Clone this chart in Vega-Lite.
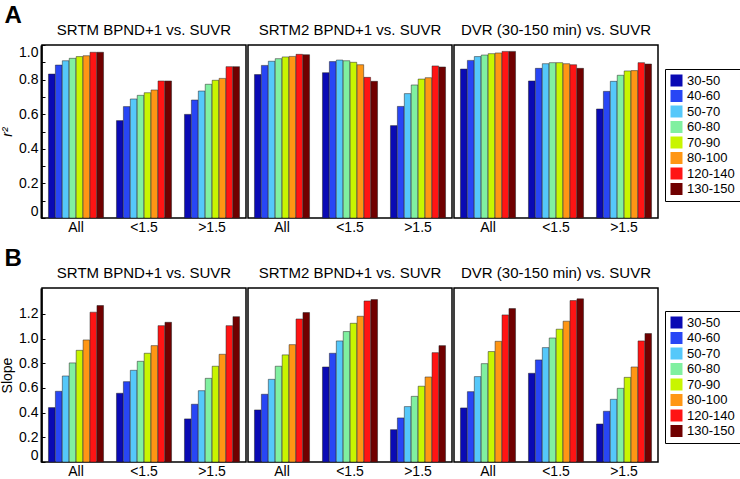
{
  "$schema": "https://vega.github.io/schema/vega-lite/v6.json",
  "background": "white",
  "padding": {"left": 0, "top": 4, "right": 0, "bottom": 0},
  "config": {
    "font": "Liberation Sans",
    "view": {"stroke": "black", "strokeWidth": 1.5},
    "axis": {"domainColor": "black", "tickColor": "black", "labelColor": "black", "labelFontSize": 14, "titleFontSize": 14, "titleFontWeight": "normal", "titleColor": "black", "grid": false},
    "header": {"labelFontSize": 15, "labelColor": "black", "labelPadding": 6},
    "legend": {"labelFontSize": 13, "labelColor": "black"},
    "title": {"color": "black"}
  },
  "datasets": {
    "r2": [
      {"m": "SRTM BPND+1 vs. SUVR", "g": "All", "w": "30-50", "v": 0.832},
      {"m": "SRTM BPND+1 vs. SUVR", "g": "All", "w": "40-60", "v": 0.884},
      {"m": "SRTM BPND+1 vs. SUVR", "g": "All", "w": "50-70", "v": 0.909},
      {"m": "SRTM BPND+1 vs. SUVR", "g": "All", "w": "60-80", "v": 0.923},
      {"m": "SRTM BPND+1 vs. SUVR", "g": "All", "w": "70-90", "v": 0.933},
      {"m": "SRTM BPND+1 vs. SUVR", "g": "All", "w": "80-100", "v": 0.938},
      {"m": "SRTM BPND+1 vs. SUVR", "g": "All", "w": "120-140", "v": 0.958},
      {"m": "SRTM BPND+1 vs. SUVR", "g": "All", "w": "130-150", "v": 0.958},
      {"m": "SRTM BPND+1 vs. SUVR", "g": "<1.5", "w": "30-50", "v": 0.563},
      {"m": "SRTM BPND+1 vs. SUVR", "g": "<1.5", "w": "40-60", "v": 0.644},
      {"m": "SRTM BPND+1 vs. SUVR", "g": "<1.5", "w": "50-70", "v": 0.688},
      {"m": "SRTM BPND+1 vs. SUVR", "g": "<1.5", "w": "60-80", "v": 0.709},
      {"m": "SRTM BPND+1 vs. SUVR", "g": "<1.5", "w": "70-90", "v": 0.724},
      {"m": "SRTM BPND+1 vs. SUVR", "g": "<1.5", "w": "80-100", "v": 0.740},
      {"m": "SRTM BPND+1 vs. SUVR", "g": "<1.5", "w": "120-140", "v": 0.792},
      {"m": "SRTM BPND+1 vs. SUVR", "g": "<1.5", "w": "130-150", "v": 0.792},
      {"m": "SRTM BPND+1 vs. SUVR", "g": ">1.5", "w": "30-50", "v": 0.599},
      {"m": "SRTM BPND+1 vs. SUVR", "g": ">1.5", "w": "40-60", "v": 0.682},
      {"m": "SRTM BPND+1 vs. SUVR", "g": ">1.5", "w": "50-70", "v": 0.734},
      {"m": "SRTM BPND+1 vs. SUVR", "g": ">1.5", "w": "60-80", "v": 0.773},
      {"m": "SRTM BPND+1 vs. SUVR", "g": ">1.5", "w": "70-90", "v": 0.796},
      {"m": "SRTM BPND+1 vs. SUVR", "g": ">1.5", "w": "80-100", "v": 0.807},
      {"m": "SRTM BPND+1 vs. SUVR", "g": ">1.5", "w": "120-140", "v": 0.875},
      {"m": "SRTM BPND+1 vs. SUVR", "g": ">1.5", "w": "130-150", "v": 0.875},
      {"m": "SRTM2 BPND+1 vs. SUVR", "g": "All", "w": "30-50", "v": 0.829},
      {"m": "SRTM2 BPND+1 vs. SUVR", "g": "All", "w": "40-60", "v": 0.882},
      {"m": "SRTM2 BPND+1 vs. SUVR", "g": "All", "w": "50-70", "v": 0.906},
      {"m": "SRTM2 BPND+1 vs. SUVR", "g": "All", "w": "60-80", "v": 0.921},
      {"m": "SRTM2 BPND+1 vs. SUVR", "g": "All", "w": "70-90", "v": 0.931},
      {"m": "SRTM2 BPND+1 vs. SUVR", "g": "All", "w": "80-100", "v": 0.934},
      {"m": "SRTM2 BPND+1 vs. SUVR", "g": "All", "w": "120-140", "v": 0.946},
      {"m": "SRTM2 BPND+1 vs. SUVR", "g": "All", "w": "130-150", "v": 0.944},
      {"m": "SRTM2 BPND+1 vs. SUVR", "g": "<1.5", "w": "30-50", "v": 0.840},
      {"m": "SRTM2 BPND+1 vs. SUVR", "g": "<1.5", "w": "40-60", "v": 0.904},
      {"m": "SRTM2 BPND+1 vs. SUVR", "g": "<1.5", "w": "50-70", "v": 0.913},
      {"m": "SRTM2 BPND+1 vs. SUVR", "g": "<1.5", "w": "60-80", "v": 0.909},
      {"m": "SRTM2 BPND+1 vs. SUVR", "g": "<1.5", "w": "70-90", "v": 0.900},
      {"m": "SRTM2 BPND+1 vs. SUVR", "g": "<1.5", "w": "80-100", "v": 0.886},
      {"m": "SRTM2 BPND+1 vs. SUVR", "g": "<1.5", "w": "120-140", "v": 0.813},
      {"m": "SRTM2 BPND+1 vs. SUVR", "g": "<1.5", "w": "130-150", "v": 0.790},
      {"m": "SRTM2 BPND+1 vs. SUVR", "g": ">1.5", "w": "30-50", "v": 0.534},
      {"m": "SRTM2 BPND+1 vs. SUVR", "g": ">1.5", "w": "40-60", "v": 0.645},
      {"m": "SRTM2 BPND+1 vs. SUVR", "g": ">1.5", "w": "50-70", "v": 0.719},
      {"m": "SRTM2 BPND+1 vs. SUVR", "g": ">1.5", "w": "60-80", "v": 0.769},
      {"m": "SRTM2 BPND+1 vs. SUVR", "g": ">1.5", "w": "70-90", "v": 0.803},
      {"m": "SRTM2 BPND+1 vs. SUVR", "g": ">1.5", "w": "80-100", "v": 0.811},
      {"m": "SRTM2 BPND+1 vs. SUVR", "g": ">1.5", "w": "120-140", "v": 0.879},
      {"m": "SRTM2 BPND+1 vs. SUVR", "g": ">1.5", "w": "130-150", "v": 0.873},
      {"m": "DVR (30-150 min) vs. SUVR", "g": "All", "w": "30-50", "v": 0.861},
      {"m": "DVR (30-150 min) vs. SUVR", "g": "All", "w": "40-60", "v": 0.911},
      {"m": "DVR (30-150 min) vs. SUVR", "g": "All", "w": "50-70", "v": 0.933},
      {"m": "DVR (30-150 min) vs. SUVR", "g": "All", "w": "60-80", "v": 0.942},
      {"m": "DVR (30-150 min) vs. SUVR", "g": "All", "w": "70-90", "v": 0.950},
      {"m": "DVR (30-150 min) vs. SUVR", "g": "All", "w": "80-100", "v": 0.954},
      {"m": "DVR (30-150 min) vs. SUVR", "g": "All", "w": "120-140", "v": 0.963},
      {"m": "DVR (30-150 min) vs. SUVR", "g": "All", "w": "130-150", "v": 0.963},
      {"m": "DVR (30-150 min) vs. SUVR", "g": "<1.5", "w": "30-50", "v": 0.792},
      {"m": "DVR (30-150 min) vs. SUVR", "g": "<1.5", "w": "40-60", "v": 0.865},
      {"m": "DVR (30-150 min) vs. SUVR", "g": "<1.5", "w": "50-70", "v": 0.892},
      {"m": "DVR (30-150 min) vs. SUVR", "g": "<1.5", "w": "60-80", "v": 0.898},
      {"m": "DVR (30-150 min) vs. SUVR", "g": "<1.5", "w": "70-90", "v": 0.898},
      {"m": "DVR (30-150 min) vs. SUVR", "g": "<1.5", "w": "80-100", "v": 0.892},
      {"m": "DVR (30-150 min) vs. SUVR", "g": "<1.5", "w": "120-140", "v": 0.886},
      {"m": "DVR (30-150 min) vs. SUVR", "g": "<1.5", "w": "130-150", "v": 0.865},
      {"m": "DVR (30-150 min) vs. SUVR", "g": ">1.5", "w": "30-50", "v": 0.630},
      {"m": "DVR (30-150 min) vs. SUVR", "g": ">1.5", "w": "40-60", "v": 0.732},
      {"m": "DVR (30-150 min) vs. SUVR", "g": ">1.5", "w": "50-70", "v": 0.790},
      {"m": "DVR (30-150 min) vs. SUVR", "g": ">1.5", "w": "60-80", "v": 0.825},
      {"m": "DVR (30-150 min) vs. SUVR", "g": ">1.5", "w": "70-90", "v": 0.850},
      {"m": "DVR (30-150 min) vs. SUVR", "g": ">1.5", "w": "80-100", "v": 0.852},
      {"m": "DVR (30-150 min) vs. SUVR", "g": ">1.5", "w": "120-140", "v": 0.898},
      {"m": "DVR (30-150 min) vs. SUVR", "g": ">1.5", "w": "130-150", "v": 0.890}
    ],
    "slope": [
      {"m": "SRTM BPND+1 vs. SUVR", "g": "All", "w": "30-50", "v": 0.441},
      {"m": "SRTM BPND+1 vs. SUVR", "g": "All", "w": "40-60", "v": 0.573},
      {"m": "SRTM BPND+1 vs. SUVR", "g": "All", "w": "50-70", "v": 0.697},
      {"m": "SRTM BPND+1 vs. SUVR", "g": "All", "w": "60-80", "v": 0.803},
      {"m": "SRTM BPND+1 vs. SUVR", "g": "All", "w": "70-90", "v": 0.905},
      {"m": "SRTM BPND+1 vs. SUVR", "g": "All", "w": "80-100", "v": 0.989},
      {"m": "SRTM BPND+1 vs. SUVR", "g": "All", "w": "120-140", "v": 1.214},
      {"m": "SRTM BPND+1 vs. SUVR", "g": "All", "w": "130-150", "v": 1.268},
      {"m": "SRTM BPND+1 vs. SUVR", "g": "<1.5", "w": "30-50", "v": 0.557},
      {"m": "SRTM BPND+1 vs. SUVR", "g": "<1.5", "w": "40-60", "v": 0.651},
      {"m": "SRTM BPND+1 vs. SUVR", "g": "<1.5", "w": "50-70", "v": 0.743},
      {"m": "SRTM BPND+1 vs. SUVR", "g": "<1.5", "w": "60-80", "v": 0.816},
      {"m": "SRTM BPND+1 vs. SUVR", "g": "<1.5", "w": "70-90", "v": 0.881},
      {"m": "SRTM BPND+1 vs. SUVR", "g": "<1.5", "w": "80-100", "v": 0.943},
      {"m": "SRTM BPND+1 vs. SUVR", "g": "<1.5", "w": "120-140", "v": 1.105},
      {"m": "SRTM BPND+1 vs. SUVR", "g": "<1.5", "w": "130-150", "v": 1.132},
      {"m": "SRTM BPND+1 vs. SUVR", "g": ">1.5", "w": "30-50", "v": 0.349},
      {"m": "SRTM BPND+1 vs. SUVR", "g": ">1.5", "w": "40-60", "v": 0.468},
      {"m": "SRTM BPND+1 vs. SUVR", "g": ">1.5", "w": "50-70", "v": 0.578},
      {"m": "SRTM BPND+1 vs. SUVR", "g": ">1.5", "w": "60-80", "v": 0.678},
      {"m": "SRTM BPND+1 vs. SUVR", "g": ">1.5", "w": "70-90", "v": 0.776},
      {"m": "SRTM BPND+1 vs. SUVR", "g": ">1.5", "w": "80-100", "v": 0.873},
      {"m": "SRTM BPND+1 vs. SUVR", "g": ">1.5", "w": "120-140", "v": 1.105},
      {"m": "SRTM BPND+1 vs. SUVR", "g": ">1.5", "w": "130-150", "v": 1.178},
      {"m": "SRTM2 BPND+1 vs. SUVR", "g": "All", "w": "30-50", "v": 0.422},
      {"m": "SRTM2 BPND+1 vs. SUVR", "g": "All", "w": "40-60", "v": 0.549},
      {"m": "SRTM2 BPND+1 vs. SUVR", "g": "All", "w": "50-70", "v": 0.670},
      {"m": "SRTM2 BPND+1 vs. SUVR", "g": "All", "w": "60-80", "v": 0.776},
      {"m": "SRTM2 BPND+1 vs. SUVR", "g": "All", "w": "70-90", "v": 0.868},
      {"m": "SRTM2 BPND+1 vs. SUVR", "g": "All", "w": "80-100", "v": 0.951},
      {"m": "SRTM2 BPND+1 vs. SUVR", "g": "All", "w": "120-140", "v": 1.159},
      {"m": "SRTM2 BPND+1 vs. SUVR", "g": "All", "w": "130-150", "v": 1.211},
      {"m": "SRTM2 BPND+1 vs. SUVR", "g": "<1.5", "w": "30-50", "v": 0.770},
      {"m": "SRTM2 BPND+1 vs. SUVR", "g": "<1.5", "w": "40-60", "v": 0.881},
      {"m": "SRTM2 BPND+1 vs. SUVR", "g": "<1.5", "w": "50-70", "v": 0.981},
      {"m": "SRTM2 BPND+1 vs. SUVR", "g": "<1.5", "w": "60-80", "v": 1.057},
      {"m": "SRTM2 BPND+1 vs. SUVR", "g": "<1.5", "w": "70-90", "v": 1.124},
      {"m": "SRTM2 BPND+1 vs. SUVR", "g": "<1.5", "w": "80-100", "v": 1.181},
      {"m": "SRTM2 BPND+1 vs. SUVR", "g": "<1.5", "w": "120-140", "v": 1.305},
      {"m": "SRTM2 BPND+1 vs. SUVR", "g": "<1.5", "w": "130-150", "v": 1.316},
      {"m": "SRTM2 BPND+1 vs. SUVR", "g": ">1.5", "w": "30-50", "v": 0.262},
      {"m": "SRTM2 BPND+1 vs. SUVR", "g": ">1.5", "w": "40-60", "v": 0.357},
      {"m": "SRTM2 BPND+1 vs. SUVR", "g": ">1.5", "w": "50-70", "v": 0.449},
      {"m": "SRTM2 BPND+1 vs. SUVR", "g": ">1.5", "w": "60-80", "v": 0.532},
      {"m": "SRTM2 BPND+1 vs. SUVR", "g": ">1.5", "w": "70-90", "v": 0.614},
      {"m": "SRTM2 BPND+1 vs. SUVR", "g": ">1.5", "w": "80-100", "v": 0.689},
      {"m": "SRTM2 BPND+1 vs. SUVR", "g": ">1.5", "w": "120-140", "v": 0.886},
      {"m": "SRTM2 BPND+1 vs. SUVR", "g": ">1.5", "w": "130-150", "v": 0.943},
      {"m": "DVR (30-150 min) vs. SUVR", "g": "All", "w": "30-50", "v": 0.438},
      {"m": "DVR (30-150 min) vs. SUVR", "g": "All", "w": "40-60", "v": 0.570},
      {"m": "DVR (30-150 min) vs. SUVR", "g": "All", "w": "50-70", "v": 0.692},
      {"m": "DVR (30-150 min) vs. SUVR", "g": "All", "w": "60-80", "v": 0.797},
      {"m": "DVR (30-150 min) vs. SUVR", "g": "All", "w": "70-90", "v": 0.895},
      {"m": "DVR (30-150 min) vs. SUVR", "g": "All", "w": "80-100", "v": 0.978},
      {"m": "DVR (30-150 min) vs. SUVR", "g": "All", "w": "120-140", "v": 1.192},
      {"m": "DVR (30-150 min) vs. SUVR", "g": "All", "w": "130-150", "v": 1.243},
      {"m": "DVR (30-150 min) vs. SUVR", "g": "<1.5", "w": "30-50", "v": 0.719},
      {"m": "DVR (30-150 min) vs. SUVR", "g": "<1.5", "w": "40-60", "v": 0.827},
      {"m": "DVR (30-150 min) vs. SUVR", "g": "<1.5", "w": "50-70", "v": 0.927},
      {"m": "DVR (30-150 min) vs. SUVR", "g": "<1.5", "w": "60-80", "v": 1.005},
      {"m": "DVR (30-150 min) vs. SUVR", "g": "<1.5", "w": "70-90", "v": 1.076},
      {"m": "DVR (30-150 min) vs. SUVR", "g": "<1.5", "w": "80-100", "v": 1.141},
      {"m": "DVR (30-150 min) vs. SUVR", "g": "<1.5", "w": "120-140", "v": 1.308},
      {"m": "DVR (30-150 min) vs. SUVR", "g": "<1.5", "w": "130-150", "v": 1.322},
      {"m": "DVR (30-150 min) vs. SUVR", "g": ">1.5", "w": "30-50", "v": 0.308},
      {"m": "DVR (30-150 min) vs. SUVR", "g": ">1.5", "w": "40-60", "v": 0.411},
      {"m": "DVR (30-150 min) vs. SUVR", "g": ">1.5", "w": "50-70", "v": 0.508},
      {"m": "DVR (30-150 min) vs. SUVR", "g": ">1.5", "w": "60-80", "v": 0.597},
      {"m": "DVR (30-150 min) vs. SUVR", "g": ">1.5", "w": "70-90", "v": 0.686},
      {"m": "DVR (30-150 min) vs. SUVR", "g": ">1.5", "w": "80-100", "v": 0.770},
      {"m": "DVR (30-150 min) vs. SUVR", "g": ">1.5", "w": "120-140", "v": 0.981},
      {"m": "DVR (30-150 min) vs. SUVR", "g": ">1.5", "w": "130-150", "v": 1.041}
    ]
  },
  "vconcat": [
    {
      "data": {"name": "r2"},
      "title": {"text": "A", "anchor": "start", "frame": "bounds", "fontSize": 24, "fontWeight": "bold", "offset": -5, "dx": 4},
      "facet": {"column": {"field": "m", "type": "nominal", "title": null, "sort": ["SRTM BPND+1 vs. SUVR", "SRTM2 BPND+1 vs. SUVR", "DVR (30-150 min) vs. SUVR"], "header": {"labelOrient": "top"}}},
      "spacing": 0,
      "spec": {
        "width": 204,
        "height": 173,
        "mark": {"type": "bar", "stroke": "#222", "strokeWidth": 0.5},
        "encoding": {
          "x": {"field": "g", "type": "nominal", "sort": ["All", "<1.5", ">1.5"], "scale": {"paddingInner": 0.19, "paddingOuter": 0.095}, "axis": {"title": null, "labelAngle": 0, "ticks": false, "domain": false, "labelPadding": 1, "labelFontSize": 14}},
          "xOffset": {"field": "w", "type": "nominal", "sort": ["30-50", "40-60", "50-70", "60-80", "70-90", "80-100", "120-140", "130-150"], "scale": {"paddingInner": 0.05}},
          "y": {"field": "v", "type": "quantitative", "scale": {"domain": [0, 1], "nice": false}, "axis": {"title": "r²", "titleFontStyle": "italic", "values": [0, 0.1, 0.2, 0.3, 0.4, 0.5, 0.6, 0.7, 0.8, 0.9, 1.0], "labelExpr": "datum.value == 0 ? '0' : (round(datum.value*10)%2==0 ? format(datum.value, '.1f') : '')", "labelFlush": true, "tickSize": -4, "labelPadding": 7, "domainWidth": 2, "titlePadding": 4}},
          "color": {"field": "w", "type": "nominal", "sort": ["30-50", "40-60", "50-70", "60-80", "70-90", "80-100", "120-140", "130-150"], "scale": {"domain": ["30-50", "40-60", "50-70", "60-80", "70-90", "80-100", "120-140", "130-150"], "range": ["#0a0ab4", "#2846f5", "#55c8fa", "#80f0a0", "#c8f500", "#ff9614", "#ff1414", "#700000"]}, "legend": {"title": null, "orient": "none", "legendX": 623, "legendY": 24, "symbolType": "square", "symbolSize": 144, "symbolStrokeWidth": 0, "strokeColor": "black", "padding": 5, "rowPadding": 1.5, "labelOffset": 4}}
        }
      }
    },
    {
      "data": {"name": "slope"},
      "title": {"text": "B", "anchor": "start", "frame": "bounds", "fontSize": 24, "fontWeight": "bold", "offset": -5, "dx": 4},
      "facet": {"column": {"field": "m", "type": "nominal", "title": null, "sort": ["SRTM BPND+1 vs. SUVR", "SRTM2 BPND+1 vs. SUVR", "DVR (30-150 min) vs. SUVR"], "header": {"labelOrient": "top"}}},
      "spacing": 0,
      "spec": {
        "width": 204,
        "height": 174,
        "mark": {"type": "bar", "stroke": "#222", "strokeWidth": 0.5},
        "encoding": {
          "x": {"field": "g", "type": "nominal", "sort": ["All", "<1.5", ">1.5"], "scale": {"paddingInner": 0.19, "paddingOuter": 0.095}, "axis": {"title": null, "labelAngle": 0, "ticks": false, "domain": false, "labelPadding": 1, "labelFontSize": 14}},
          "xOffset": {"field": "w", "type": "nominal", "sort": ["30-50", "40-60", "50-70", "60-80", "70-90", "80-100", "120-140", "130-150"], "scale": {"paddingInner": 0.05}},
          "y": {"field": "v", "type": "quantitative", "scale": {"domain": [0, 1.41], "nice": false}, "axis": {"title": "Slope", "values": [0, 0.2, 0.4, 0.6, 0.8, 1.0, 1.2], "labelExpr": "datum.value == 0 ? '0' : format(datum.value, '.1f')", "labelFlush": true, "tickSize": -4, "labelPadding": 7, "domainWidth": 2, "titlePadding": 4}},
          "color": {"field": "w", "type": "nominal", "sort": ["30-50", "40-60", "50-70", "60-80", "70-90", "80-100", "120-140", "130-150"], "scale": {"domain": ["30-50", "40-60", "50-70", "60-80", "70-90", "80-100", "120-140", "130-150"], "range": ["#0a0ab4", "#2846f5", "#55c8fa", "#80f0a0", "#c8f500", "#ff9614", "#ff1414", "#700000"]}, "legend": {"title": null, "orient": "none", "legendX": 623, "legendY": 23, "symbolType": "square", "symbolSize": 144, "symbolStrokeWidth": 0, "strokeColor": "black", "padding": 5, "rowPadding": 1.5, "labelOffset": 4}}
        }
      }
    }
  ],
  "resolve": {"scale": {"color": "independent"}, "legend": {"color": "independent"}},
  "spacing": 13
}
